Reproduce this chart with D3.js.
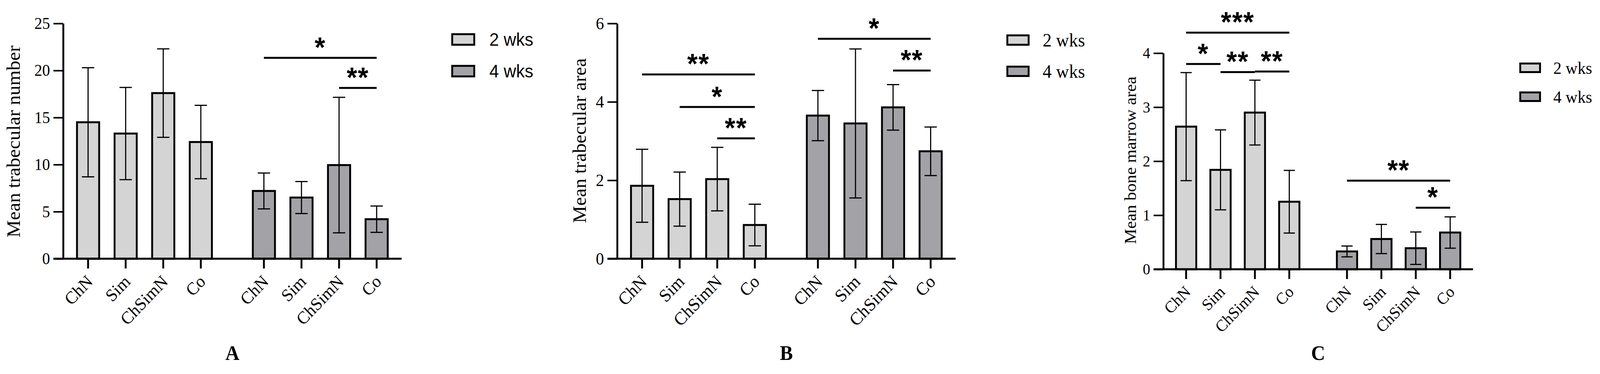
<!DOCTYPE html>
<html>
<head>
<meta charset="utf-8">
<script src="https://cdn.jsdelivr.net/npm/d3@7"></script>
<style>
  html, body { margin: 0; padding: 0; background: #fff; overflow: hidden; }
  svg { display: block; width: 100vw; height: 100vh; }
</style>
</head>
<body>
<script>
// ---- data ----
const groups = ["2 wks", "4 wks"];
const treatments = ["ChN", "Sim", "ChSimN", "Co"];

// A: mean trabecular number
const trabNumMean2 = [14.5, 13.3, 17.6, 12.4];
const trabNumSd2 = [5.8, 4.9, 4.7, 3.9];
const trabNumMean4 = [7.2, 6.5, 9.95, 4.2];
const trabNumSd4 = [1.9, 1.7, 7.2, 1.4];
const trabNumTicks = [0, 5, 10, 15, 20, 25];
const trabNumSig = [
  ["4 wks", "ChN", "Co", 21.35, "*"],
  ["4 wks", "ChSimN", "Co", 18.15, "**"],
];

// B: mean trabecular area
const trabAreaMean2 = [1.86, 1.52, 2.03, 0.86];
const trabAreaSd2 = [0.93, 0.69, 0.81, 0.53];
const trabAreaMean4 = [3.65, 3.45, 3.86, 2.74];
const trabAreaSd4 = [0.64, 1.9, 0.58, 0.62];
const trabAreaTicks = [0, 2, 4, 6];
const trabAreaSig = [
  ["2 wks", "ChN", "Co", 4.7, "**"],
  ["2 wks", "Sim", "Co", 3.87, "*"],
  ["2 wks", "ChSimN", "Co", 3.07, "**"],
  ["4 wks", "ChN", "Co", 5.61, "*"],
  ["4 wks", "ChSimN", "Co", 4.8, "**"],
];

// C: mean bone marrow area
const marrowMean2 = [2.64, 1.84, 2.9, 1.25];
const marrowSd2 = [1.0, 0.74, 0.6, 0.58];
const marrowMean4 = [0.33, 0.56, 0.39, 0.68];
const marrowSd4 = [0.1, 0.27, 0.3, 0.29];
const marrowTicks = [0, 1, 2, 3, 4];
const marrowSig = [
  ["2 wks", "ChN", "Co", 4.38, "***"],
  ["2 wks", "ChN", "Sim", 3.8, "*"],
  ["2 wks", "Sim", "ChSimN", 3.65, "**"],
  ["2 wks", "ChSimN", "Co", 3.66, "**"],
  ["4 wks", "ChN", "Co", 1.64, "**"],
  ["4 wks", "ChSimN", "Co", 1.14, "*"],
];

const fills = { "2 wks": "#d4d4d4", "4 wks": "#a3a3a7" };
const serif = "'Liberation Serif', 'Times New Roman', serif";
const sans = "'Liberation Sans', Arial, sans-serif";

const width = 4283;
const height = 957;

// viewBox keeps the whole figure inside whatever the viewport turns out to be
const svg = d3
  .select("body")
  .append("svg")
  .attr("viewBox", `0 0 ${width} ${height}`)
  .attr("preserveAspectRatio", "none");

svg.append("rect").attr("width", width).attr("height", height).attr("fill", "#fff");

const panels = [
  {
    letter: "A", title: "Mean trabecular number",
    means: [trabNumMean2, trabNumMean4], sds: [trabNumSd2, trabNumSd4],
    ticks: trabNumTicks, sig: trabNumSig, max: 25,
    x0: 169, x1: 1075, yTop: 60, yZero: 662,
    tickFont: 42, labelFont: 45, titleFont: 50, titleX: 53, titleY: 362,
    capW: 33,
    legend: { x: 1208, y: [85, 166], w: 64, h: 32, tx: 1310, font: 46, family: sans },
  },
  {
    letter: "B", title: "Mean trabecular area",
    means: [trabAreaMean2, trabAreaMean4], sds: [trabAreaSd2, trabAreaSd4],
    ticks: trabAreaTicks, sig: trabAreaSig, max: 6,
    x0: 1652, x1: 2558, yTop: 60, yZero: 662,
    tickFont: 44, labelFont: 46, titleFont: 50, titleX: 1568, titleY: 360,
    capW: 33,
    legend: { x: 2694, y: [88, 168], w: 62, h: 29, tx: 2791, font: 48, family: serif },
  },
  {
    letter: "C", title: "Mean bone marrow area",
    means: [marrowMean2, marrowMean4], sds: [marrowSd2, marrowSd4],
    ticks: marrowTicks, sig: marrowSig, max: 4,
    x0: 3114, x1: 3943, yTop: 136, yZero: 689,
    tickFont: 40, labelFont: 42, titleFont: 44, titleX: 3041, titleY: 410,
    capW: 30,
    legend: { x: 4067, y: [160, 234], w: 58, h: 27, tx: 4158, font: 44, family: serif },
  },
];

panels.forEach((p) => {
  const g = svg.append("g");

  const y = d3.scaleLinear().domain([0, p.max]).range([p.yZero, p.yTop]);

  const outer = d3
    .scaleBand()
    .domain(groups)
    .range([p.x0, p.x1])
    .paddingInner(0.145)
    .paddingOuter(0.035);

  const inner = d3
    .scaleBand()
    .domain(treatments)
    .range([0, outer.bandwidth()])
    .paddingInner(0.41)
    .paddingOuter(0.205);

  const cx = (grp, t) => outer(grp) + inner(t) + inner.bandwidth() / 2;

  // bars + error bars
  groups.forEach((grp, gi) => {
    const rows = treatments.map((t, i) => ({
      t, mean: p.means[gi][i], sd: p.sds[gi][i],
    }));

    g.append("g")
      .selectAll("rect")
      .data(rows)
      .enter()
      .append("rect")
      .attr("x", (d) => outer(grp) + inner(d.t))
      .attr("y", (d) => y(d.mean))
      .attr("width", inner.bandwidth())
      .attr("height", (d) => y(0) - y(d.mean))
      .attr("fill", fills[grp])
      .attr("stroke", "#000")
      .attr("stroke-width", 5);

    const err = g.append("g").attr("stroke", "#000").attr("stroke-width", 3);
    rows.forEach((d) => {
      const x = cx(grp, d.t);
      err.append("line")
        .attr("x1", x).attr("x2", x)
        .attr("y1", y(d.mean - d.sd)).attr("y2", y(d.mean + d.sd));
      [d.mean - d.sd, d.mean + d.sd].forEach((v) => {
        err.append("line")
          .attr("x1", x - p.capW / 2).attr("x2", x + p.capW / 2)
          .attr("y1", y(v)).attr("y2", y(v));
      });
    });
  });

  // y axis
  const yAxis = g
    .append("g")
    .attr("transform", `translate(${p.x0},0)`)
    .call(
      d3.axisLeft(y)
        .tickValues(p.ticks)
        .tickFormat(d3.format("d"))
        .tickSize(26)
        .tickSizeOuter(0)
        .tickPadding(9)
    );
  yAxis.select(".domain").attr("stroke", "#000").attr("stroke-width", 5);
  yAxis.selectAll(".tick line").attr("stroke", "#000").attr("stroke-width", 4);
  yAxis.selectAll(".tick text")
    .attr("fill", "#000")
    .style("font-family", serif)
    .style("font-size", `${p.tickFont}px`);

  // x baseline and ticks
  g.append("line")
    .attr("x1", p.x0 - 26).attr("x2", p.x1)
    .attr("y1", y(0)).attr("y2", y(0))
    .attr("stroke", "#000").attr("stroke-width", 5);

  groups.forEach((grp) => {
    treatments.forEach((t) => {
      const x = cx(grp, t);
      g.append("line")
        .attr("x1", x).attr("x2", x)
        .attr("y1", y(0)).attr("y2", y(0) + 25)
        .attr("stroke", "#000").attr("stroke-width", 5);
      g.append("text")
        .attr("transform", `translate(${x + 4},${y(0) + 50}) rotate(-45)`)
        .attr("text-anchor", "end")
        .attr("dy", "0.35em")
        .style("font-family", serif)
        .style("font-size", `${p.labelFont}px`)
        .text(t);
    });
  });

  // y title
  g.append("text")
    .attr("transform", `translate(${p.titleX},${p.titleY}) rotate(-90)`)
    .attr("text-anchor", "middle")
    .style("font-family", serif)
    .style("font-size", `${p.titleFont}px`)
    .text(p.title);

  // significance brackets
  p.sig.forEach(([grp, a, b, level, label]) => {
    const xa = cx(grp, a);
    const xb = cx(grp, b);
    g.append("line")
      .attr("x1", xa).attr("x2", xb)
      .attr("y1", y(level)).attr("y2", y(level))
      .attr("stroke", "#000").attr("stroke-width", 5);
    g.append("text")
      .attr("x", (xa + xb) / 2)
      .attr("y", y(level) - 2)
      .attr("text-anchor", "middle")
      .style("font-family", sans)
      .style("font-weight", "bold")
      .style("font-size", "72px")
      .style("letter-spacing", "2px")
      .text(label);
  });

  // legend
  const lg = p.legend;
  groups.forEach((grp, i) => {
    g.append("rect")
      .attr("x", lg.x + 2.5).attr("y", lg.y[i] + 2.5)
      .attr("width", lg.w - 5).attr("height", lg.h - 5)
      .attr("fill", fills[grp])
      .attr("stroke", "#000").attr("stroke-width", 5);
    g.append("text")
      .attr("x", lg.tx)
      .attr("y", lg.y[i] + lg.h / 2)
      .attr("dy", "0.35em")
      .style("font-family", lg.family)
      .style("font-size", `${lg.font}px`)
      .text(grp);
  });

  // panel letter
  g.append("text")
    .attr("x", (p.x0 + p.x1) / 2)
    .attr("y", 921)
    .attr("text-anchor", "middle")
    .style("font-family", serif)
    .style("font-weight", "bold")
    .style("font-size", "52px")
    .text(p.letter);
});
</script>
</body>
</html>
